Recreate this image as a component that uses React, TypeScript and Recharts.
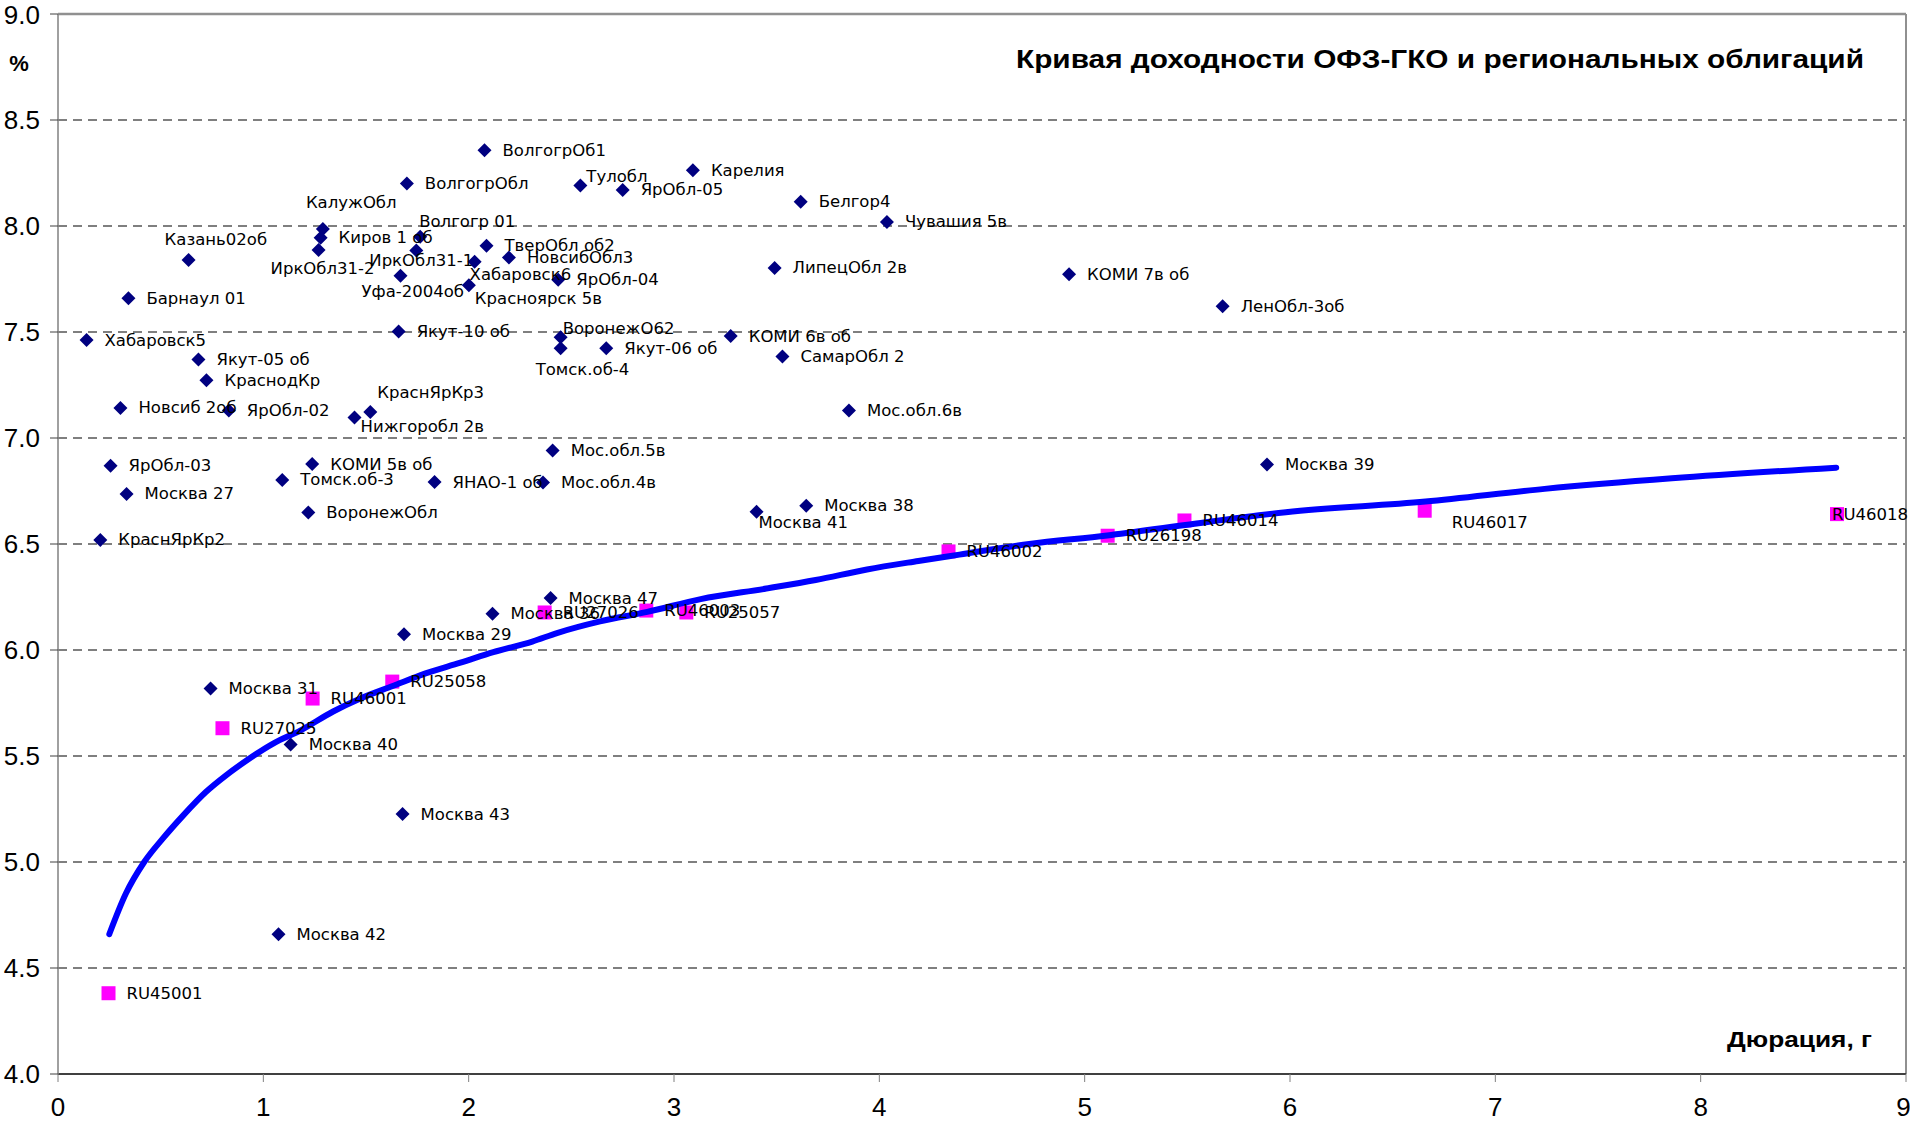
import { ScatterChart, Scatter, XAxis, YAxis, CartesianGrid, ReferenceLine } from "recharts";

// regional bonds: duration (years) / yield (%)
const regionalNames = [
  "ВолгогрОб1", "ВолгогрОбл", "Тулобл", "Карелия", "ЯрОбл-05", "Белгор4", "Чувашия 5в",
  "КалужОбл", "Киров 1 об", "ИркОбл31-2", "Казань02об", "Барнаул 01", "Хабаровск5",
  "Якут-05 об", "КраснодКр", "Новсиб 2об", "ЯрОбл-02", "КраснЯрКр3", "Нижгоробл 2в",
  "Волгогр 01", "ИркОбл31-1", "ТверОбл об2", "НовсибОбл3", "Хабаровск6", "Уфа-2004об",
  "Красноярск 5в", "ЯрОбл-04", "ЛипецОбл 2в", "КОМИ 7в об", "ЛенОбл-3об", "Якут-10 об",
  "ВоронежО62", "Томск.об-4", "Якут-06 об", "КОМИ 6в об", "СамарОбл 2", "Мос.обл.6в",
  "ЯрОбл-03", "Москва 27", "КраснЯрКр2", "КОМИ 5в об", "Томск.об-3", "ВоронежОбл",
  "ЯНАО-1 об", "Мос.обл.5в", "Мос.обл.4в", "Москва 41", "Москва 38", "Москва 39",
  "Москва 47", "Москва 36", "Москва 29", "Москва 31", "Москва 40", "Москва 43", "Москва 42",
];
const regionalDur = [
  2.077, 1.699, 2.544, 3.092, 2.75, 3.617, 4.037,
  1.29, 1.279, 1.269, 0.636, 0.343, 0.139,
  0.684, 0.723, 0.304, 0.832, 1.521, 1.444,
  1.764, 1.745, 2.087, 2.196, 2.029, 1.668,
  2.001, 2.436, 3.49, 4.924, 5.672, 1.659,
  2.448, 2.448, 2.67, 3.276, 3.528, 3.852,
  0.256, 0.334, 0.206, 1.238, 1.092, 1.219,
  1.834, 2.409, 2.362, 3.402, 3.644, 5.888,
  2.399, 2.116, 1.685, 0.743, 1.133, 1.678, 1.074,
];
const regionalYld = [
  8.357, 8.2, 8.191, 8.263, 8.17, 8.114, 8.019,
  7.986, 7.944, 7.887, 7.84, 7.659, 7.462,
  7.37, 7.272, 7.142, 7.13, 7.123, 7.097,
  7.949, 7.885, 7.907, 7.851, 7.831, 7.765,
  7.72, 7.746, 7.802, 7.772, 7.621, 7.502,
  7.475, 7.423, 7.423, 7.481, 7.385, 7.13,
  6.869, 6.736, 6.519, 6.877, 6.802, 6.649,
  6.792, 6.941, 6.79, 6.652, 6.681, 6.875,
  6.245, 6.171, 6.074, 5.818, 5.554, 5.226, 4.659,
];

// ОФЗ-ГКО
const ofzNames = ["RU45001", "RU27025", "RU46001", "RU25058", "RU27026", "RU46003", "RU25057", "RU46002", "RU26198", "RU46014", "RU46017", "RU46018"];
const ofzDur = [0.246, 0.801, 1.24, 1.628, 2.37, 2.865, 3.06, 4.337, 5.112, 5.486, 6.656, 8.664];
const ofzYld = [4.381, 5.631, 5.771, 5.851, 6.177, 6.186, 6.177, 6.465, 6.539, 6.611, 6.657, 6.641];

// yield curve
const curveDur = [0.25, 0.33, 0.42, 0.51, 0.61, 0.72, 0.82, 0.92, 1.05, 1.18, 1.34, 1.47, 1.63, 1.79, 1.96, 2.12, 2.31, 2.43, 2.64, 2.87, 3.13, 3.45, 3.69, 3.94, 4.19, 4.39, 4.73, 5.11, 5.49, 5.98, 6.66, 7.24, 7.86, 8.66];
const curveYld = [4.66, 4.85, 5.0, 5.11, 5.22, 5.33, 5.41, 5.48, 5.56, 5.62, 5.71, 5.77, 5.83, 5.89, 5.94, 5.99, 6.04, 6.08, 6.135, 6.18, 6.24, 6.29, 6.33, 6.38, 6.42, 6.45, 6.5, 6.54, 6.59, 6.65, 6.7, 6.76, 6.81, 6.86];

const xTicks = [0, 1, 2, 3, 4, 5, 6, 7, 8, 9];
const yTicks = [4, 4.5, 5, 5.5, 6, 6.5, 7, 7.5, 8, 8.5, 9];

const regional = regionalNames.map((name, i) => ({ name, x: regionalDur[i], y: regionalYld[i] }));
const ofz = ofzNames.map((name, i) => ({ name, x: ofzDur[i], y: ofzYld[i] }));
const curve = curveDur.map((x, i) => ({ x, y: curveYld[i] }));

// labels that were dragged away from the default right-hand spot: [dx, dy]
const labelNudge: Record<string, [number, number]> = {
  "КалужОбл": [-17, -26],
  "ИркОбл31-2": [-48, 19],
  "Казань02об": [-24, -20],
  "КраснЯрКр3": [7, -19],
  "Нижгоробл 2в": [6, 9],
  "Волгогр 01": [-1, -15],
  "ИркОбл31-1": [-47, 10],
  "Хабаровск6": [-5, 13],
  "Уфа-2004об": [-39, 16],
  "Красноярск 5в": [6, 13],
  "Тулобл": [6, -9],
  "ВоронежО62": [2, -9],
  "Томск.об-4": [-25, 21],
  "Москва 41": [2, 11],
  "RU46017": [27, 12],
  "RU46018": [-5, 0],
};

const Diamond = (p: any) => {
  const { cx, cy } = p;
  return <path d={`M${cx},${cy - 7}L${cx + 7},${cy}L${cx},${cy + 7}L${cx - 7},${cy}Z`} fill="#000080" />;
};

const Square = (p: any) => <rect x={p.cx - 7} y={p.cy - 7} width={14} height={14} fill="#FF00FF" />;

const Label = (p: any) => {
  const [dx, dy] = labelNudge[p.payload.name] ?? [18, 0];
  return (
    <text x={p.cx + dx} y={p.cy + dy} dominantBaseline="central" fontFamily="DejaVu Sans" fontSize={16.5} fill="#000">
      {p.payload.name}
    </text>
  );
};

const tickFont = { fontSize: 26, fontFamily: "Liberation Sans, Arial", fill: "#000" };

export default function App() {
  return (
    <div style={{ position: "absolute", left: 0, top: 0, width: 1910, height: 1123, background: "#fff" }}>
      <ScatterChart width={1910} height={1123} margin={{ top: 14, right: 4, bottom: 0, left: 0 }}>
        <CartesianGrid vertical={false} stroke="#000" strokeWidth={1.2} strokeDasharray="9 6" />
        <XAxis
          dataKey="x"
          type="number"
          domain={[0, 9]}
          ticks={xTicks}
          height={49}
          tickSize={8}
          tickMargin={16}
          tick={tickFont}
          axisLine={{ stroke: "#404040", strokeWidth: 2 }}
          tickLine={{ stroke: "#808080" }}
        />
        <YAxis
          dataKey="y"
          type="number"
          domain={[4, 9]}
          ticks={yTicks}
          width={58}
          tickSize={8}
          tickMargin={10}
          tick={tickFont}
          tickFormatter={(v: number) => v.toFixed(1)}
          axisLine={{ stroke: "#808080", strokeWidth: 1.5 }}
          tickLine={{ stroke: "#404040" }}
        />
        <ReferenceLine y={9} stroke="#909090" strokeWidth={2.5} />
        <ReferenceLine x={9} stroke="#909090" strokeWidth={2} />
        <Scatter data={regional} shape={Diamond} isAnimationActive={false} />
        <Scatter data={ofz} shape={Square} isAnimationActive={false} />
        <Scatter
          data={curve}
          line={{ stroke: "#0000FF", strokeWidth: 6, strokeLinecap: "round", strokeLinejoin: "round" }}
          lineJointType="monotoneX"
          shape={() => <g />}
          isAnimationActive={false}
        />
        <Scatter data={regional} shape={Label} isAnimationActive={false} />
        <Scatter data={ofz} shape={Label} isAnimationActive={false} />
      </ScatterChart>
      <svg width={1910} height={1123} style={{ position: "absolute", left: 0, top: 0, pointerEvents: "none" }}>
        <text x={19} y={63} textAnchor="middle" dominantBaseline="central" fontFamily="Liberation Sans, Arial" fontWeight="bold" fontSize={22}>
          %
        </text>
        <text
          x={1016}
          y={59}
          dominantBaseline="central"
          fontFamily="Liberation Sans, Arial"
          fontWeight="bold"
          fontSize={25}
          textLength={848}
          lengthAdjust="spacingAndGlyphs"
        >
          Кривая доходности ОФЗ-ГКО и региональных облигаций
        </text>
        <text
          x={1727}
          y={1039}
          dominantBaseline="central"
          fontFamily="Liberation Sans, Arial"
          fontWeight="bold"
          fontSize={22}
          textLength={145}
          lengthAdjust="spacingAndGlyphs"
        >
          Дюрация, г
        </text>
      </svg>
    </div>
  );
}
